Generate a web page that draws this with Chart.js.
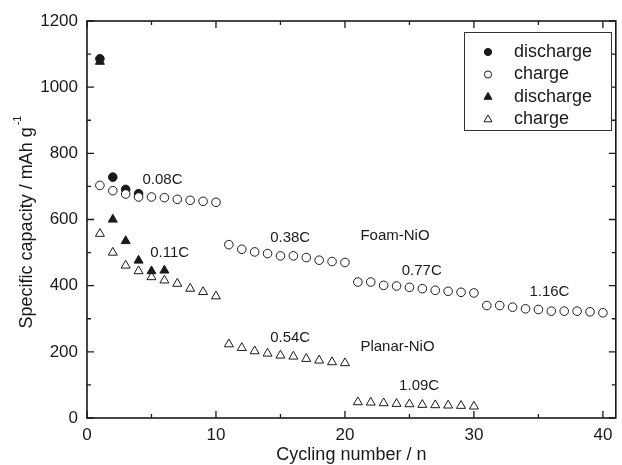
<!DOCTYPE html>
<html><head><meta charset="utf-8">
<script src="https://cdn.jsdelivr.net/npm/chart.js@4/dist/chart.umd.min.js"></script>
<style>html,body{margin:0;padding:0;background:#fff}#wrap{width:622px;height:465px}</style>
</head><body><div id="wrap"><canvas id="c" width="622" height="465"></canvas></div>
<script>
const foamDischargeX = [1, 2, 3, 4];
const foamDischargeY = [1086, 728, 691, 678];
const foamChargeX = [1,2,3,4,5,6,7,8,9,10,11,12,13,14,15,16,17,18,19,20,21,22,23,24,25,26,27,28,29,30,31,32,33,34,35,36,37,38,39,40];
const foamChargeY = [703,687,677,668,668,666,661,658,655,652,524,510,502,497,490,490,485,477,473,470,411,411,401,399,395,391,386,383,380,378,340,340,335,330,328,323,323,323,321,318];
const planarDischargeX = [1, 2, 3, 4, 5, 6];
const planarDischargeY = [1077, 600, 535, 476, 444, 446];
const planarChargeX = [1,2,3,4,5,6,7,8,9,10,11,12,13,14,15,16,17,18,19,20,21,22,23,24,25,26,27,28,29,30];
const planarChargeY = [557,500,461,444,426,416,406,391,381,368,223,212,202,195,189,186,179,174,169,166,48,47,45,43,42,40,39,38,37,35];
const seriesLabels = ['discharge', 'charge', 'discharge', 'charge'];
const xTicks = [0, 10, 20, 30, 40];
const yTicks = [0, 200, 400, 600, 800, 1000, 1200];
const xTitle = 'Cycling number / n';
const yTitle = 'Specific capacity / mAh g';
const yTitleSup = '-1';
const annotTexts = ['0.08C', '0.11C', '0.38C', 'Foam-NiO', '0.54C', 'Planar-NiO', '0.77C', '1.09C', '1.16C'];
const annotX = [4.3, 4.9, 14.2, 21.2, 14.2, 21.2, 24.4, 24.2, 34.3];
const annotY = [720, 500, 545, 550, 242, 215, 445, 98, 382];

const pts = (xs, ys) => xs.map((x, i) => ({x, y: ys[i]}));
const FONT = '"Liberation Sans", Arial, Helvetica, sans-serif';
const INK = '#1a1a1a';

const framePlugin = {
  id: 'frame',
  afterDatasetsDraw(chart) {
    const {ctx, chartArea: a, scales: {x, y}} = chart;
    ctx.save();
    ctx.strokeStyle = INK;
    ctx.lineWidth = 1.6;
    ctx.strokeRect(a.left, a.top, a.right - a.left, a.bottom - a.top);
    ctx.lineWidth = 1.3;
    const tick = (px, major, horiz) => {
      const L = major ? 7 : 4;
      ctx.beginPath();
      if (horiz) {
        ctx.moveTo(px, a.bottom); ctx.lineTo(px, a.bottom - L);
        ctx.moveTo(px, a.top); ctx.lineTo(px, a.top + L);
      } else {
        ctx.moveTo(a.left, px); ctx.lineTo(a.left + L, px);
        ctx.moveTo(a.right, px); ctx.lineTo(a.right - L, px);
      }
      ctx.stroke();
    };
    for (let v = 0; v <= 40; v += 5) tick(x.getPixelForValue(v), v % 10 === 0, true);
    for (let v = 0; v <= 1200; v += 100) tick(y.getPixelForValue(v), v % 200 === 0, false);

    // annotations
    ctx.fillStyle = INK;
    ctx.font = '15px ' + FONT;
    ctx.textBaseline = 'middle';
    ctx.textAlign = 'left';
    annotTexts.forEach((t, i) => ctx.fillText(t, x.getPixelForValue(annotX[i]), y.getPixelForValue(annotY[i])));

    // axis titles
    ctx.font = '18px ' + FONT;
    ctx.textAlign = 'center';
    ctx.fillText(xTitle, (a.left + a.right) / 2, 455);
    ctx.save();
    ctx.translate(27, 222);
    ctx.rotate(-Math.PI / 2);
    const w1 = ctx.measureText(yTitle).width;
    ctx.font = '11px ' + FONT;
    const w2 = ctx.measureText(yTitleSup).width;
    const tot = w1 + w2 + 2;
    ctx.textAlign = 'left';
    ctx.font = '18px ' + FONT;
    ctx.fillText(yTitle, -tot / 2, 0);
    ctx.font = '11px ' + FONT;
    ctx.fillText(yTitleSup, -tot / 2 + w1 + 2, -9);
    ctx.restore();

    // legend
    const bx = 464, by = 32, bw = 147, bh = 98;
    ctx.fillStyle = '#fff';
    ctx.fillRect(bx, by, bw, bh);
    ctx.strokeStyle = '#333';
    ctx.lineWidth = 1;
    ctx.strokeRect(bx + 0.5, by + 0.5, bw, bh);
    chart.data.datasets.forEach((ds, i) => {
      const cy = 52 + i * 22.5;
      const cx = 488;
      ctx.beginPath();
      ctx.lineWidth = 1;
      ctx.strokeStyle = INK;
      ctx.fillStyle = ds.pointBackgroundColor;
      if (ds.pointStyle === 'circle') {
        ctx.arc(cx, cy, 3.6, 0, Math.PI * 2);
      } else {
        const r = 4.6;
        ctx.moveTo(cx, cy - r);
        ctx.lineTo(cx + r * 0.866, cy + r * 0.5);
        ctx.lineTo(cx - r * 0.866, cy + r * 0.5);
        ctx.closePath();
      }
      ctx.fill(); ctx.stroke();
      ctx.fillStyle = INK;
      ctx.font = '18px ' + FONT;
      ctx.textAlign = 'left';
      ctx.fillText(ds.label, 514, cy);
    });
    ctx.restore();
  }
};

const mk = (label, data, style, filled, r, order) => ({
  label, data, showLine: false, order,
  pointStyle: style, pointRadius: r, pointHoverRadius: r,
  pointBackgroundColor: filled ? INK : '#fff',
  pointBorderColor: INK, pointBorderWidth: 1
});

new Chart(document.getElementById('c'), {
  type: 'scatter',
  data: {
    datasets: [
      mk(seriesLabels[0], pts(foamDischargeX, foamDischargeY), 'circle', true, 4.3, 2),
      mk(seriesLabels[1], pts(foamChargeX, foamChargeY), 'circle', false, 4.3, 1),
      mk(seriesLabels[2], pts(planarDischargeX, planarDischargeY), 'triangle', true, 5.2, 3),
      mk(seriesLabels[3], pts(planarChargeX, planarChargeY), 'triangle', false, 5.2, 4)
    ]
  },
  options: {
    responsive: false, animation: false,
    layout: {padding: {left: 0, top: 21, right: 2, bottom: 0}},
    plugins: {legend: {display: false}, tooltip: {enabled: false}},
    scales: {
      x: {
        type: 'linear', min: 0, max: 41,
        afterFit(s) { s.height = 47; },
        afterBuildTicks(s) { s.ticks = xTicks.map(v => ({value: v})); },
        grid: {display: false, drawTicks: false},
        border: {display: false},
        ticks: {padding: 7, color: INK, font: {family: FONT, size: 17}, maxRotation: 0, callback: v => String(v)}
      },
      y: {
        type: 'linear', min: 0, max: 1200,
        afterFit(s) { s.width = 87; },
        afterBuildTicks(s) { s.ticks = yTicks.map(v => ({value: v})); },
        grid: {display: false, drawTicks: false},
        border: {display: false},
        ticks: {padding: 9, color: INK, font: {family: FONT, size: 17}, callback: v => String(v)}
      }
    }
  },
  plugins: [framePlugin]
});
</script></body></html>
